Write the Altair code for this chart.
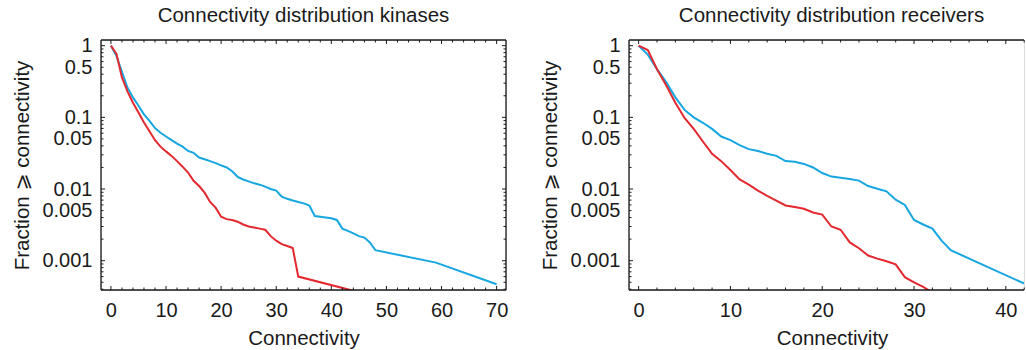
import altair as alt
import pandas as pd

FONT = "Liberation Sans, DejaVu Sans"
BLUE = "#16a6e0"
RED = "#e3282f"
INK = "#1a1a1a"

# ---------------- data ----------------
kin_blue_k = list(range(0, 49)) + [59, 70]
kin_blue_v = [1, 0.72, 0.43, 0.26, 0.19, 0.145, 0.11, 0.089, 0.071, 0.061,
              0.054, 0.048, 0.043, 0.039, 0.034, 0.032, 0.0275, 0.026, 0.0245, 0.023,
              0.0214, 0.020, 0.0177, 0.0148, 0.0136, 0.0128, 0.012, 0.0115, 0.0108, 0.010,
              0.0095, 0.0078, 0.0073, 0.0069, 0.0066, 0.0063, 0.0059, 0.0042, 0.0041, 0.0040,
              0.0039, 0.0037, 0.0028, 0.0026, 0.0024, 0.0022, 0.0021, 0.0018, 0.0014,
              0.00094, 0.00047]

kin_red_k = list(range(0, 35)) + [44]
kin_red_v = [1, 0.77, 0.36, 0.23, 0.16, 0.117, 0.085, 0.064, 0.048, 0.039,
             0.0335, 0.029, 0.0245, 0.0205, 0.017, 0.013, 0.011, 0.0089, 0.0066, 0.0055,
             0.0041, 0.0038, 0.0037, 0.0035, 0.0032, 0.0030, 0.0029, 0.0028, 0.0027, 0.0022,
             0.0019, 0.0017, 0.0016, 0.0015, 0.00060, 0.00038]

rec_blue_k = list(range(0, 35)) + [43]
rec_blue_v = [1, 0.75, 0.47, 0.31, 0.19, 0.127, 0.1, 0.084, 0.069, 0.054,
              0.048, 0.041, 0.036, 0.034, 0.031, 0.029, 0.0246, 0.024, 0.0224, 0.020,
              0.0167, 0.0149, 0.0144, 0.0138, 0.0131, 0.011, 0.0101, 0.0093, 0.0071, 0.006,
              0.0037, 0.0032, 0.0028, 0.0019, 0.0014, 0.00042]

rec_red_k = list(range(0, 33))
rec_red_v = [1, 0.87, 0.47, 0.28, 0.16, 0.098, 0.069, 0.046, 0.031, 0.0245,
             0.0184, 0.0136, 0.0115, 0.0095, 0.008, 0.0069, 0.0059, 0.0056, 0.0053, 0.0047,
             0.0044, 0.0030, 0.0027, 0.0018, 0.00149, 0.00118, 0.00107, 0.00098, 0.00089, 0.00059,
             0.0005, 0.00043, 0.00036]

# axis tick labels / tick marks
y_labels = [1, 0.5, 0.1, 0.05, 0.01, 0.005, 0.001]
y_major = [1, 0.1, 0.01, 0.001]
y_minor = [0.0004, 0.0005, 0.0006, 0.0007, 0.0008, 0.0009,
           0.002, 0.003, 0.004, 0.005, 0.006, 0.007, 0.008, 0.009,
           0.02, 0.03, 0.04, 0.05, 0.06, 0.07, 0.08, 0.09,
           0.2, 0.3, 0.4, 0.5, 0.6, 0.7, 0.8, 0.9]
kin_x_labels = [0, 10, 20, 30, 40, 50, 60, 70]
kin_x_major = [0, 10, 20, 30, 40, 50, 60, 70]
kin_x_minor = [2, 4, 6, 8, 12, 14, 16, 18, 22, 24, 26, 28, 32, 34, 36, 38,
               42, 44, 46, 48, 52, 54, 56, 58, 62, 64, 66, 68]
rec_x_labels = [0, 10, 20, 30, 40]
rec_x_major = [0, 10, 20, 30, 40]
rec_x_minor = [2, 4, 6, 8, 12, 14, 16, 18, 22, 24, 26, 28, 32, 34, 36, 38, 42]

Y_DOMAIN = [0.00039, 1.2]
H = 250
MAJ = 4
MIN = 2.5
TFS = 20.5


def panel(title, blue_k, blue_v, red_k, red_v, xdom, x_labels, x_major, x_minor,
          W, right_frame=True, title_dx=0, xtitle_x=None):
    xs = alt.Scale(domain=xdom, nice=False, zero=False)
    ys = alt.Scale(type="log", domain=Y_DOMAIN, nice=False)

    xaxis_kw = dict(values=x_labels, title="Connectivity", ticks=False, tickSize=0,
                    domain=False, grid=False, labelFont=FONT, labelFontSize=20,
                    labelColor=INK, labelPadding=10, titleFont=FONT, titleFontSize=TFS,
                    titleFontWeight="normal", titleColor=INK, titlePadding=8,
                    labelFlush=False)
    if xtitle_x is not None:
        xaxis_kw["titleX"] = xtitle_x
    xaxis = alt.Axis(**xaxis_kw)
    yaxis = alt.Axis(values=y_labels, format="~g", title="Fraction \u2a7e connectivity",
                     ticks=False, tickSize=0, domain=False, grid=False, labelFont=FONT,
                     labelFontSize=20, labelColor=INK, labelPadding=9, titleFont=FONT,
                     titleFontSize=TFS, titleFontWeight="normal", titleColor=INK,
                     titlePadding=9, labelFlush=False)

    def X(f):
        return alt.X(f, scale=xs, axis=xaxis)

    def Y(f):
        return alt.Y(f, scale=ys, axis=yaxis)

    blue_df = pd.DataFrame({"k": blue_k, "v": blue_v})
    red_df = pd.DataFrame({"k": red_k, "v": red_v})

    blue = alt.Chart(blue_df).mark_line(clip=True, strokeWidth=2, color=BLUE).encode(
        x=X("k:Q"), y=Y("v:Q"))
    red = alt.Chart(red_df).mark_line(clip=True, strokeWidth=2, color=RED).encode(
        x=X("k:Q"), y=Y("v:Q"))

    layers = [blue, red]

    # inward ticks on bottom and top
    for vals, ln in ((x_major, MAJ), (x_minor, MIN)):
        tdf = pd.DataFrame({"k": vals})
        layers.append(alt.Chart(tdf).mark_rule(color=INK, strokeWidth=1).encode(
            x=X("k:Q"), y=alt.value(H), y2=alt.value(H - ln)))
        layers.append(alt.Chart(tdf).mark_rule(color=INK, strokeWidth=1).encode(
            x=X("k:Q"), y=alt.value(0), y2=alt.value(ln)))
    # inward ticks on left and right
    for vals, ln in ((y_major, MAJ), (y_minor, MIN)):
        tdf = pd.DataFrame({"v": vals})
        layers.append(alt.Chart(tdf).mark_rule(color=INK, strokeWidth=1).encode(
            y=Y("v:Q"), x=alt.value(0), x2=alt.value(ln)))
        if right_frame:
            layers.append(alt.Chart(tdf).mark_rule(color=INK, strokeWidth=1).encode(
                y=Y("v:Q"), x=alt.value(W), x2=alt.value(W - ln)))

    # frame
    one = pd.DataFrame({"a": [0]})
    fr = dict(color=INK, strokeWidth=1.3)
    layers.append(alt.Chart(one).mark_rule(**fr).encode(x=alt.value(0), x2=alt.value(W), y=alt.value(0)))
    layers.append(alt.Chart(one).mark_rule(**fr).encode(x=alt.value(0), x2=alt.value(W), y=alt.value(H)))
    layers.append(alt.Chart(one).mark_rule(**fr).encode(x=alt.value(0), y=alt.value(0), y2=alt.value(H)))
    if right_frame:
        layers.append(alt.Chart(one).mark_rule(**fr).encode(x=alt.value(W), y=alt.value(0), y2=alt.value(H)))

    return alt.layer(*layers).properties(
        width=W, height=H,
        title=alt.TitleParams(title, font=FONT, fontSize=TFS, fontWeight="normal", color=INK,
                              anchor="middle", frame="group", offset=9, dx=title_dx),
    )


left = panel("Connectivity distribution kinases", kin_blue_k, kin_blue_v, kin_red_k, kin_red_v,
             [-1.8, 71.7], kin_x_labels, kin_x_major, kin_x_minor, 405)
right = panel("Connectivity distribution receivers", rec_blue_k, rec_blue_v, rec_red_k, rec_red_v,
              [-1.05, 41.98], rec_x_labels, rec_x_major, rec_x_minor, 395,
              right_frame=False, title_dx=5, xtitle_x=203)

chart = alt.hconcat(left, right, spacing=31).properties(
    padding={"left": 12, "top": 5, "right": 0, "bottom": 0}
).configure_view(stroke=None).configure(background="white")

chart.save("out.html", embed_options={"renderer": "svg", "actions": False})
